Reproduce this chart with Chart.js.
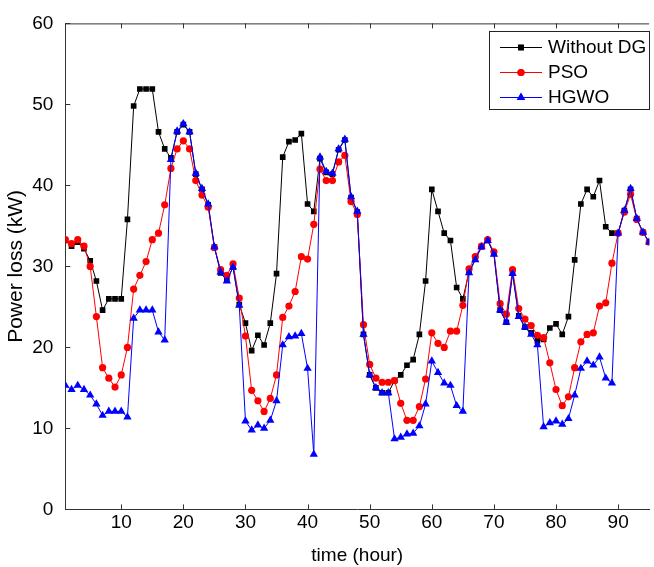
<!DOCTYPE html>
<html>
<head>
<meta charset="utf-8">
<script src="https://cdn.jsdelivr.net/npm/chart.js@4.4.0/dist/chart.umd.min.js"></script>
<style>
  html, body { margin:0; padding:0; background:#fff; }
  #wrap { width:654px; height:567px; }
</style>
</head>
<body>
<div id="wrap"><canvas id="lossChart" width="654" height="567"></canvas></div>
<script>
// hour index of each sample
const hours = [
  1,2,3,4,5,6,7,8,9,10,11,12,13,14,15,16,17,18,19,20,21,22,23,24,25,26,27,28,29,30,
  31,32,33,34,35,36,37,38,39,40,41,42,43,44,45,46,47,48,49,50,51,52,53,54,55,56,57,58,59,60,
  61,62,63,64,65,66,67,68,69,70,71,72,73,74,75,76,77,78,79,80,81,82,83,84,85,86,87,88,89,90,
  91,92,93,94,95
];

// power loss (kW)
const withoutDG = [
  33.2,32.5,33.0,32.2,30.7,28.2,24.6,26.0,26.0,26.0,35.8,49.8,51.9,51.9,51.9,46.6,44.5,43.4,46.6,47.5,
  46.6,41.4,39.5,37.6,32.4,29.2,28.3,29.9,25.3,23.0,19.6,21.5,20.3,23.0,29.1,43.5,45.4,45.6,46.4,37.7,
  36.8,43.3,41.6,41.4,44.4,45.6,38.5,36.7,21.6,16.6,15.0,14.4,14.4,15.9,16.6,17.8,18.5,21.6,28.2,39.5,
  36.8,34.1,33.2,27.4,26.0,29.3,30.9,32.4,33.2,31.6,24.6,23.1,29.2,23.9,22.5,21.8,20.8,21.0,22.4,22.9,
  21.6,23.8,30.8,37.7,39.5,38.6,40.6,34.9,34.1,34.1,36.9,39.5,35.9,34.2,33.0
];
const pso = [
  33.3,32.8,33.3,32.5,30.0,23.8,17.5,16.2,15.1,16.6,20.0,27.2,28.9,30.6,33.3,34.1,37.6,42.1,44.5,45.5,
  44.5,40.6,38.8,37.3,32.3,29.6,28.9,30.3,26.1,21.4,14.7,13.4,12.1,13.7,16.6,23.7,25.1,26.9,31.2,30.9,
  35.2,42.0,40.6,40.6,42.9,43.7,38.0,36.4,22.8,17.9,16.2,15.7,15.7,15.9,13.1,11.0,11.0,12.7,16.1,21.8,
  20.5,20.0,22.0,22.0,25.2,29.7,31.2,32.5,33.3,31.8,25.4,24.1,29.6,24.8,23.5,22.7,21.5,21.2,18.1,14.8,
  12.8,13.9,17.5,20.7,21.6,21.8,25.1,25.5,30.4,34.1,36.7,38.9,35.8,34.2,33.0
];
const hgwo = [
  15.3,14.8,15.3,14.8,14.1,13.0,11.6,12.1,12.1,12.1,11.4,23.6,24.6,24.6,24.6,21.9,20.9,43.2,46.7,47.6,
  46.6,41.5,39.6,37.7,32.4,29.3,28.2,29.9,25.2,10.9,9.8,10.4,10.0,11.0,13.4,20.3,21.3,21.4,21.7,17.4,
  6.8,43.5,41.7,41.5,44.5,45.7,38.6,36.8,21.6,16.6,15.0,14.4,14.4,8.7,8.9,9.3,9.4,10.3,13.0,18.3,
  16.9,15.6,15.3,12.8,12.1,29.2,30.8,32.4,33.2,31.5,24.6,23.1,29.1,23.8,22.5,21.6,20.3,10.2,10.7,10.9,
  10.5,11.2,14.1,17.4,18.3,17.8,18.8,16.2,15.6,34.1,36.9,39.6,35.9,34.2,33.0
];

const seriesNames = ['Without DG', 'PSO', 'HGWO'];
const xTicks = [10, 20, 30, 40, 50, 60, 70, 80, 90];
const yTicks = [0, 10, 20, 30, 40, 50, 60];

const FONT = "'Liberation Sans',Arial,sans-serif";
const AXIS = '#333';

const toXY = vals => vals.map((v, i) => ({ x: hours[i], y: v }));

// box, inward ticks on bottom / top / left (matlab look)
const frame = {
  id: 'frame',
  afterDraw(chart){
    const { ctx, chartArea: a, scales: { x, y } } = chart;
    ctx.save();
    ctx.strokeStyle = AXIS;
    ctx.lineWidth = 1;
    ctx.beginPath();
    ctx.moveTo(a.left, a.top + 0.5); ctx.lineTo(a.right, a.top + 0.5);
    xTicks.forEach(v => {
      const px = Math.round(x.getPixelForValue(v)) + 0.5;
      ctx.moveTo(px, a.bottom); ctx.lineTo(px, a.bottom - 5);
      ctx.moveTo(px, a.top); ctx.lineTo(px, a.top + 5);
    });
    yTicks.forEach(v => {
      const py = Math.round(y.getPixelForValue(v)) + 0.5;
      ctx.moveTo(a.left, py); ctx.lineTo(a.left + 5, py);
    });
    ctx.stroke();
    ctx.restore();
  }
};

// boxed legend in the upper right corner
const boxLegend = {
  id: 'boxLegend',
  afterDraw(chart){
    const { ctx } = chart;
    const bx = 489, by = 31, bw = 160, bh = 78;
    ctx.save();
    ctx.fillStyle = '#fff';
    ctx.fillRect(bx, by, bw, bh);
    ctx.strokeStyle = '#222';
    ctx.lineWidth = 1;
    ctx.strokeRect(bx + 0.5, by + 0.5, bw, bh);
    const rows = [47, 72, 97];
    chart.data.datasets.forEach((ds, i) => {
      const yy = rows[i];
      ctx.strokeStyle = ds.borderColor;
      ctx.lineWidth = 1;
      ctx.beginPath(); ctx.moveTo(500, yy + 0.5); ctx.lineTo(542, yy + 0.5); ctx.stroke();
      ctx.fillStyle = ds.backgroundColor;
      Chart.helpers.drawPoint(ctx, { pointStyle: ds.pointStyle, radius: ds.pointRadius, borderWidth: 0 }, 521, yy + 0.5);
      ctx.fill();
      ctx.fillStyle = '#000';
      ctx.font = '19px ' + FONT;
      ctx.textBaseline = 'middle';
      ctx.fillText(ds.label, 548, yy + 1);
    });
    ctx.restore();
  }
};

const ctx = document.getElementById('lossChart').getContext('2d');
new Chart(ctx, {
  type: 'line',
  data: {
    datasets: [
      { label: seriesNames[0], data: toXY(withoutDG), borderColor: '#000', backgroundColor: '#000',
        pointStyle: 'rect', pointRadius: 4, order: 3 },
      { label: seriesNames[1], data: toXY(pso), borderColor: '#ff0000', backgroundColor: '#ff0000',
        pointStyle: 'circle', pointRadius: 3.6, order: 2 },
      { label: seriesNames[2], data: toXY(hgwo), borderColor: '#0000ff', backgroundColor: '#0000ff',
        pointStyle: 'triangle', pointRadius: 4.8, order: 1 }
    ]
  },
  options: {
    responsive: false,
    animation: false,
    layout: { padding: { top: 15, right: 0, left: 0, bottom: 0 } },
    elements: {
      line: { borderWidth: 1, tension: 0 },
      point: { borderWidth: 0, hoverRadius: 4 }
    },
    plugins: { legend: { display: false }, tooltip: { enabled: false } },
    scales: {
      x: {
        type: 'linear', min: 1, max: 95,
        afterBuildTicks: s => { s.ticks = xTicks.map(v => ({ value: v })); },
        grid: { display: false, drawTicks: false },
        border: { display: true, color: AXIS, width: 1 },
        ticks: { color: '#000', padding: 2, font: { family: FONT, size: 19 } },
        title: { display: true, text: 'time (hour)', color: '#000', padding: { top: 8, bottom: 0 },
                 font: { family: FONT, size: 19 } }
      },
      y: {
        min: 0, max: 60,
        afterBuildTicks: s => { s.ticks = yTicks.map(v => ({ value: v })); },
        grid: { display: false, drawTicks: false },
        border: { display: true, color: AXIS, width: 1 },
        ticks: { color: '#000', padding: 12, font: { family: FONT, size: 19 } },
        title: { display: true, text: 'Power loss (kW)', color: '#000', padding: { top: 4, bottom: -9 },
                 font: { family: FONT, size: 21 } }
      }
    }
  },
  plugins: [frame, boxLegend]
});
</script>
</body>
</html>
